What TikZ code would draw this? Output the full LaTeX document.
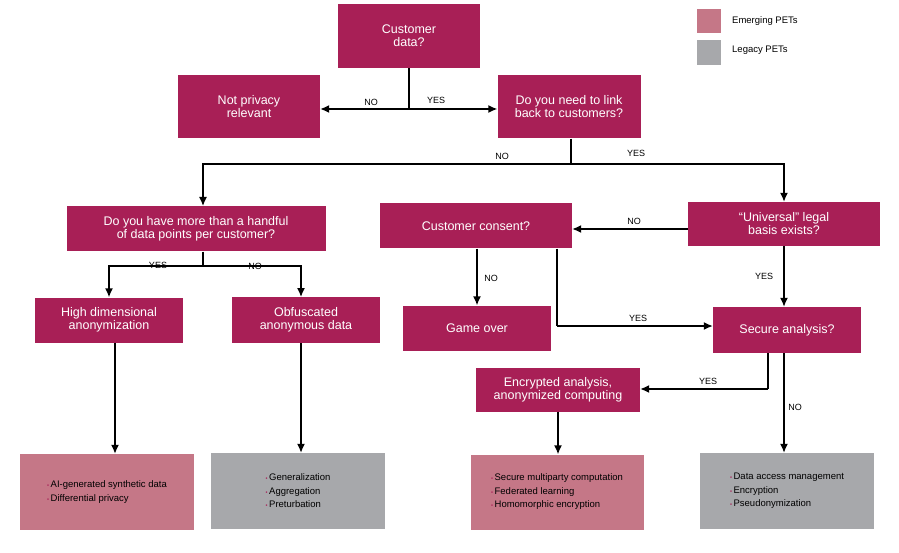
\documentclass[tikz,border=0pt]{standalone}
\usepackage{fontspec}
\setmainfont{Liberation Sans}
\usetikzlibrary{arrows.meta}
\definecolor{petred}{HTML}{A81F56}
\definecolor{petpink}{HTML}{C57787}
\definecolor{petgrey}{HTML}{A7A8AB}
\newcommand{\pt}{{\color{petred}\scalebox{0.6}{\textbullet}}\,}
\begin{document}
\begin{tikzpicture}[x=1pt,y=-1pt,
   q/.style={fill=petred, text=white, font=\fontsize{12.5}{13}\selectfont, align=center, inner sep=0pt},
   res/.style={inner sep=0pt, font=\fontsize{9.5}{13.5}\selectfont, align=left},
   line/.style={draw, line width=1.4pt, -{Latex[length=9pt,width=8pt]}},
   seg/.style={draw, line width=1.4pt},
   lab/.style={font=\fontsize{9}{10}\selectfont}]
   \useasboundingbox (0,0) rectangle (899,553);
   % questions
   \node[q, minimum width=142, minimum height=64] (cust) at (409,36) {Customer\\data?};
   \node[q, minimum width=142, minimum height=63] (notpriv) at (249,107) {Not privacy\\relevant};
   \node[q, minimum width=143, minimum height=63] (link) at (569,107) {Do you need to link\\back to customers?};
   \node[q, minimum width=259, minimum height=45] (hand) at (196,229) {Do you have more than a handful\\of data points per customer?};
   \node[q, minimum width=192, minimum height=45] (consent) at (476,226) {Customer consent?};
   \node[q, minimum width=192, minimum height=44] (univ) at (784,224) {``Universal'' legal\\basis exists?};
   \node[q, minimum width=148, minimum height=45] (highdim) at (109,320) {High dimensional\\anonymization};
   \node[q, minimum width=148, minimum height=46] (obf) at (306,320) {Obfuscated\\anonymous data};
   \node[q, minimum width=148, minimum height=45] (gameover) at (477,328) {Game over};
   \node[q, minimum width=148, minimum height=46] (secure) at (787,330) {Secure analysis?};
   \node[q, minimum width=164, minimum height=44] (encr) at (558,390) {Encrypted analysis,\\anonymized computing};
   % results
   \node[fill=petpink, minimum width=174, minimum height=76] (aigen) at (107,492) {};
   \node[res] at (aigen) {\pt AI-generated synthetic data\\\pt Differential privacy};
   \node[fill=petgrey, minimum width=174, minimum height=76] (general) at (298,491) {};
   \node[res] at (general) {\pt Generalization\\\pt Aggregation\\\pt Preturbation};
   \node[fill=petpink, minimum width=173, minimum height=75] (smpc) at (557,492) {};
   \node[res] at (smpc) {\pt Secure multiparty computation\\\pt Federated learning\\\pt Homomorphic encryption};
   \node[fill=petgrey, minimum width=174, minimum height=76] (access) at (787,491) {};
   \node[res] at (access) {\pt Data access management\\\pt Encryption\\\pt Pseudonymization};
   % legend
   \node[fill=petpink, minimum width=24, minimum height=24, inner sep=0pt] (legem) at (709,21) {};
   \node[fill=petgrey, minimum width=24, minimum height=25, inner sep=0pt] (legleg) at (709,53) {};
   \node[anchor=west, font=\fontsize{9.5}{10}\selectfont, inner sep=0pt] at (732,21) {Emerging PETs};
   \node[anchor=west, font=\fontsize{9.5}{10}\selectfont, inner sep=0pt] at (732,50) {Legacy PETs};

   % junctions
   \coordinate (j1) at (409,109);
   \coordinate (j2) at (571,164);
   \coordinate (j3) at (203,266);
   \coordinate (j4) at (557,326);
   \coordinate (j5) at (768,389);

   \path[seg] (cust.south) -- (j1);
   \path[line] (j1) -- (j1 -| notpriv.east);
   \path[line] (j1) -- (j1 -| link.west);
   \path[seg] (link.south -| j2) -- (j2);
   \path[line] (j2) -| (203,206);
   \path[line] (j2) -| (univ.north);
   \path[seg] (hand.south -| j3) -- (j3);
   \path[line] (j3) -| (highdim.north);
   \path[line] (j3) -| (301,297);
   \path[line] (univ.west |- 0,229) -- (consent.east |- 0,229);
   \path[line] (univ.south) -- (secure.north -| univ.south);
   \path[line] (consent.south -| gameover.north) -- (gameover.north);
   \path[seg] (consent.south -| j4) -- (j4);
   \path[line] (j4) -- (j4 -| secure.west);
   \path[seg] (secure.south -| j5) -- (j5);
   \path[line] (j5) -- (j5 -| encr.east);
   \path[line] (secure.south -| univ.south) -- (access.north -| univ.south);
   \path[line] (highdim.south -| 115,0) -- (aigen.north -| 115,0);
   \path[line] (obf.south -| 301,0) -- (general.north -| 301,0);
   \path[line] (encr.south) -- (smpc.north -| encr.south);

   % labels
   \node[lab] at (371,102) {NO};
   \node[lab] at (436,100) {YES};
   \node[lab] at (502,156) {NO};
   \node[lab] at (636,153) {YES};
   \node[lab] at (158,265) {YES};
   \node[lab] at (255,266) {NO};
   \node[lab] at (634,221) {NO};
   \node[lab] at (764,276) {YES};
   \node[lab] at (491,278) {NO};
   \node[lab] at (638,318) {YES};
   \node[lab] at (708,381) {YES};
   \node[lab] at (795,407) {NO};
\end{tikzpicture}
\end{document}
